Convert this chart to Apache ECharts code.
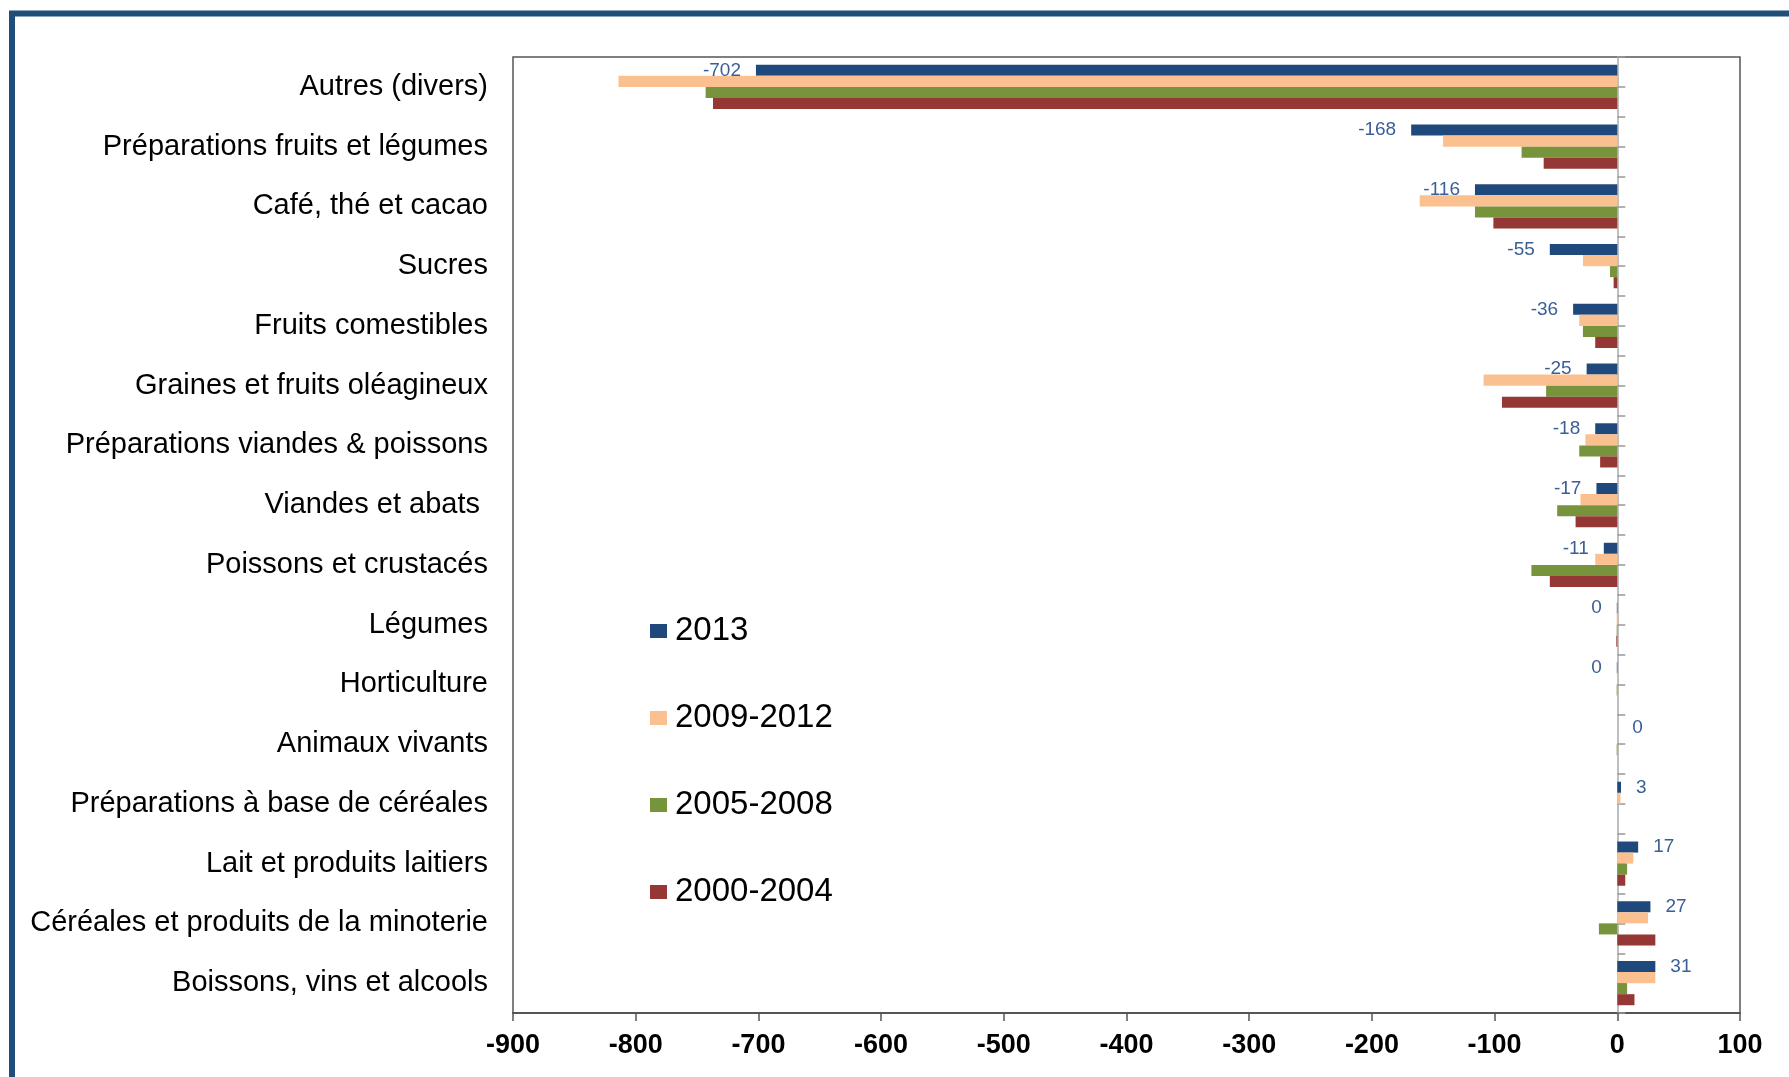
<!DOCTYPE html>
<html>
<head>
<meta charset="utf-8">
<script src="https://cdn.jsdelivr.net/npm/echarts@6/dist/echarts.min.js"></script>
<style>
html,body{margin:0;padding:0;background:#fff;}
#chart{width:1789px;height:1077px;}
</style>
</head>
<body>
<div id="chart"></div>
<script>
const categories = [
  "Autres (divers)",
  "Préparations fruits et légumes",
  "Café, thé et cacao",
  "Sucres",
  "Fruits comestibles",
  "Graines et fruits oléagineux",
  "Préparations viandes & poissons",
  "Viandes et abats ",
  "Poissons et crustacés",
  "Légumes",
  "Horticulture",
  "Animaux vivants",
  "Préparations à base de céréales",
  "Lait et produits laitiers",
  "Céréales et produits de la minoterie",
  "Boissons, vins et alcools"
];
const seriesNames = ["2013", "2009-2012", "2005-2008", "2000-2004"];
const v2013     = [-702, -168, -116, -55, -36, -25, -18, -17, -11, -0.4, -0.4, 0, 3, 17, 27, 31];
const v2009_12  = [-814, -142, -161, -28, -31, -109, -26, -30, -18, -0.5, -0.3, 0, 2.6, 13, 25, 31];
const v2005_08  = [-743, -78, -116, -6, -28, -58, -31, -49, -70, -0.5, -0.5, -0.5, 0, 8, -15, 8];
const v2000_04  = [-737, -60, -101, -3, -18, -94, -14, -34, -55, -0.8, 0, 0, 0, 6.5, 31, 14];
const xTicks = { min: -900, max: 100, interval: 100 };

const colors = ["#1F497D", "#FAC090", "#77933C", "#953735"];
const allValues = [v2013, v2009_12, v2005_08, v2000_04];

const halfTicks = [];
for (let i = 0; i < categories.length * 2; i++) halfTicks.push(String(i));

const chart = echarts.init(document.getElementById('chart'), null, {renderer: 'canvas'});

const series = allValues.map((vals, si) => {
  return {
    name: seriesNames[si],
    type: 'bar',
    yAxisIndex: 0,
    barGap: '0%',
    barCategoryGap: '26%',
    itemStyle: { color: colors[si] },
    data: vals.map(v => {
      const item = { value: v };
      if (si === 0) {
        item.label = {
          show: true,
          position: v < 0 ? 'left' : 'right',
          distance: 15,
          fontSize: 19,
          fontFamily: 'Liberation Sans, Arial, sans-serif',
          color: '#3A5E96',
          formatter: p => String(Math.round(p.value))
        };
      }
      return item;
    })
  };
});

const option = {
  animation: false,
  backgroundColor: '#ffffff',
  textStyle: { fontFamily: 'Liberation Sans, Arial, sans-serif' },
  graphic: [{
    type: 'rect',
    shape: { x: 12, y: 13.5, width: 1900, height: 1200 },
    style: { fill: 'none', stroke: '#1F4E79', lineWidth: 6 },
    silent: true,
    z: 100
  }],
  legend: {
    orient: 'vertical',
    left: 650,
    top: 614,
    padding: 0,
    itemWidth: 17,
    itemHeight: 14,
    itemGap: 53,
    icon: 'rect',
    data: seriesNames,
    textStyle: { fontSize: 33, color: '#000', lineHeight: 34, padding: [0, 0, 0, 3] }
  },
  grid: {
    left: 513,
    top: 57,
    width: 1227,
    height: 956,
    show: true,
    borderColor: '#555',
    borderWidth: 1.5,
    outerBoundsMode: 'none'
  },
  xAxis: {
    type: 'value',
    min: xTicks.min,
    max: xTicks.max,
    interval: xTicks.interval,
    axisLine: { show: true, onZero: false, lineStyle: { color: '#555', width: 2 } },
    axisTick: { show: true, length: 8, lineStyle: { color: '#555', width: 1.5 } },
    axisLabel: { fontSize: 27, fontWeight: 'bold', color: '#000', margin: 19 },
    splitLine: { show: false }
  },
  yAxis: [{
    type: 'category',
    inverse: true,
    data: categories,
    position: 'left',
    axisLine: { show: false, onZero: false },
    axisTick: { show: false },
    axisLabel: { fontSize: 29, color: '#000', margin: 25, padding: [4, 0, 0, 0] }
  }, {
    type: 'category',
    inverse: true,
    data: halfTicks,
    position: 'left',
    axisLine: { show: true, onZero: true, lineStyle: { color: '#aaa', width: 1.5 } },
    axisTick: { show: true, inside: true, length: 8, lineStyle: { color: '#999', width: 1.5 } },
    axisLabel: { show: false },
    splitLine: { show: false }
  }],
  series: series
};
chart.setOption(option);
</script>
</body>
</html>
